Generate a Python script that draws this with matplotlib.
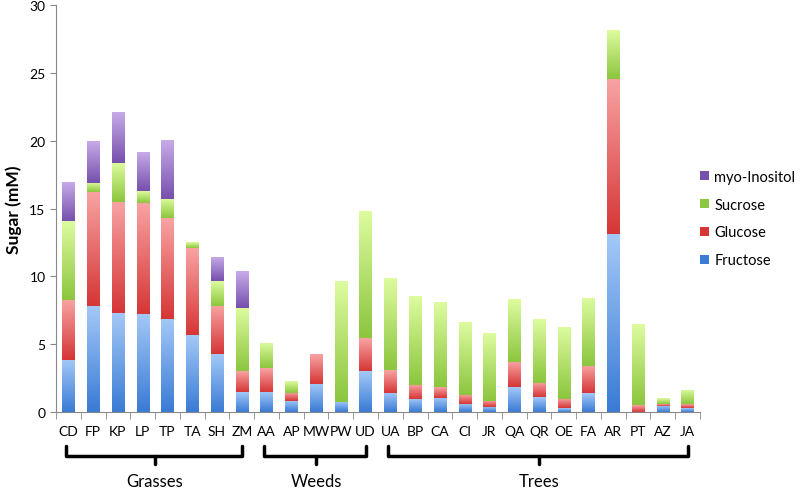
import numpy as np
import matplotlib
matplotlib.use('Agg')
import matplotlib.pyplot as plt
import matplotlib.transforms as mtransforms
from matplotlib.colors import LinearSegmentedColormap
from matplotlib.patches import Patch

plt.rcParams['font.family'] = ['Lato', 'DejaVu Sans']

samples = ['CD', 'FP', 'KP', 'LP', 'TP', 'TA', 'SH', 'ZM',
           'AA', 'AP', 'MW', 'PW', 'UD',
           'UA', 'BP', 'CA', 'CI', 'JR', 'QA', 'QR', 'OE', 'FA', 'AR', 'PT', 'AZ', 'JA']

fructose = [3.88, 7.8, 7.27, 7.22, 6.88, 5.65, 4.25, 1.47,
            1.52, 0.86, 2.09, 0.74, 3.0,
            1.45, 0.96, 1.08, 0.59, 0.39, 1.84, 1.1, 0.29, 1.38, 13.1, 0.02, 0.47, 0.29]
glucose = [4.42, 8.4, 8.21, 8.21, 7.42, 6.46, 3.54, 1.53,
           1.72, 0.59, 2.16, 0.0, 2.43,
           1.69, 1.05, 0.81, 0.69, 0.45, 1.89, 1.06, 0.69, 2.01, 11.47, 0.5, 0.14, 0.28]
sucrose = [5.75, 0.7, 2.9, 0.84, 1.42, 0.42, 1.84, 4.71,
           1.89, 0.86, 0.05, 8.89, 9.41,
           6.76, 6.52, 6.21, 5.35, 4.98, 4.6, 4.67, 5.33, 5.01, 3.56, 5.94, 0.42, 1.08]
inositol = [2.9, 3.1, 3.76, 2.92, 4.35, 0.0, 1.82, 2.68,
            0, 0, 0, 0, 0,
            0, 0, 0, 0, 0, 0, 0, 0, 0, 0, 0, 0, 0]

groups = [('Grasses', 0, 7), ('Weeds', 8, 12), ('Trees', 13, 25)]

series = [
    ('Fructose', fructose, '#a3c8f7', '#3a7bd5'),
    ('Glucose', glucose, '#f8a3a3', '#d63636'),
    ('Sucrose', sucrose, '#ddfb9f', '#8cc63e'),
    ('myo-Inositol', inositol, '#c8ace9', '#7650ad'),
]

fig = plt.figure(figsize=(8, 4.89), dpi=100)
ax = fig.add_axes([0.07, 0.155, 0.805, 0.833])

width = 0.5
x = np.arange(len(samples))
bottom = np.zeros(len(samples))
grad = np.linspace(0, 1, 64).reshape(-1, 1)
for name, vals, c_top, c_bot in series:
    vals = np.array(vals, dtype=float)
    cmap = LinearSegmentedColormap.from_list(name, [c_bot, c_top])
    bars = ax.bar(x, vals, width, bottom=bottom, color='none', edgecolor='none')
    for xi, b, h, patch in zip(x, bottom, vals, bars):
        if h <= 0:
            continue
        im = ax.imshow(grad, cmap=cmap, origin='lower', aspect='auto',
                       extent=[xi - width / 2, xi + width / 2, b, b + h], zorder=2)
        im.set_clip_path(patch)
    bottom += vals

ax.set_xlim(-0.5, len(samples) - 0.5)
ax.set_ylim(0, 30)
ax.set_yticks(range(0, 31, 5))
ax.set_xticks(x)
ax.set_xticklabels(samples)
ax.set_xticks(np.arange(-0.5, len(samples), 1), minor=True)
ax.tick_params(axis='x', which='major', length=0, pad=9, labelsize=10)
ax.tick_params(axis='x', which='minor', length=5, color='#888888')
ax.tick_params(axis='y', length=4, color='#888888', labelsize=10)
for s in ['top', 'right']:
    ax.spines[s].set_visible(False)
for s in ['left', 'bottom']:
    ax.spines[s].set_color('#888888')
ax.set_ylabel('Sugar (mM)', fontsize=12.5, fontweight='bold')
ax.yaxis.set_label_coords(-0.053, 0.5)

# group brackets under the axis
trans = mtransforms.blended_transform_factory(ax.transData, ax.transAxes)
for label, i0, i1 in groups:
    xa, xb = i0 - 0.1, i1 + 0.0
    xm = (i0 + i1) / 2
    ax.plot([xa, xa, xb, xb], [-0.083, -0.108, -0.108, -0.083], color='black',
            lw=2.5, transform=trans, clip_on=False, solid_joinstyle='round',
            solid_capstyle='round')
    ax.plot([xm, xm], [-0.108, -0.128], color='black', lw=2.5, transform=trans,
            clip_on=False, solid_capstyle='round')
    ax.text(xm, -0.17, label, transform=trans, ha='center', va='center', fontsize=12)

handles = [Patch(facecolor=c_bot, label=name) for name, _, c_top, c_bot in series][::-1]
fig.legend(handles=handles, loc='center right', bbox_to_anchor=(0.994, 0.551), frameon=False,
           fontsize=10.5, handlelength=0.6, handleheight=0.6, handletextpad=0.35,
           labelspacing=0.95, borderaxespad=0, borderpad=0)

fig.savefig('out.png', dpi=100)
